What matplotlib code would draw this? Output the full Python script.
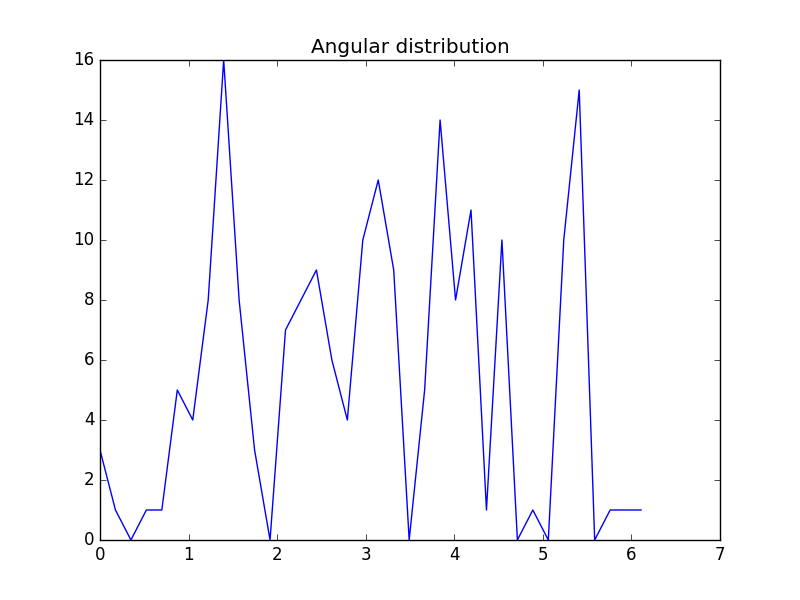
import matplotlib
matplotlib.use('Agg')
import matplotlib.pyplot as plt

# bin starts (radians, 10 degree bins)
angles = [0.0, 0.1745, 0.3491, 0.5236, 0.6981, 0.8727, 1.0472, 1.2217, 1.3963,
          1.5708, 1.7453, 1.9199, 2.0944, 2.2689, 2.4435, 2.6180, 2.7925, 2.9671,
          3.1416, 3.3161, 3.4907, 3.6652, 3.8397, 4.0143, 4.1888, 4.3633, 4.5379,
          4.7124, 4.8869, 5.0615, 5.2360, 5.4105, 5.5851, 5.7596, 5.9341, 6.1087]
counts = [3, 1, 0, 1, 1, 5, 4, 8, 16,
          8, 3, 0, 7, 8, 9, 6, 4, 10,
          12, 9, 0, 5, 14, 8, 11, 1, 10,
          0, 1, 0, 10, 15, 0, 1, 1, 1]

plt.style.use('classic')
fig, ax = plt.subplots(figsize=(8, 6), dpi=100)
ax.plot(angles, counts, color='b')
ax.set_xlim(0, 7)
ax.set_ylim(0, 16)
ax.set_title("Angular distribution")

fig.savefig('out.png', dpi=100, facecolor='white')
